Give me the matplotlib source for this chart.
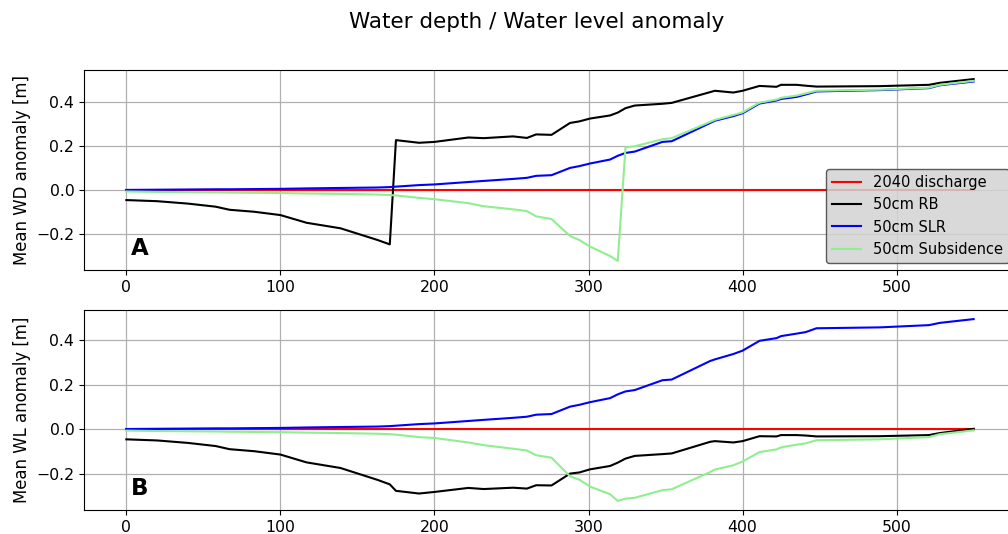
import matplotlib
matplotlib.use("Agg")
import matplotlib.pyplot as plt

# distance along the channel (shared by all series)
x = [0, 20, 40, 58, 67, 83, 100, 117, 139, 163, 171, 175, 190, 200, 222, 232,
     251, 260, 266, 276, 288, 294, 301, 314, 319, 324, 330, 348, 354, 379, 382,
     394, 400, 411, 422, 425, 435, 441, 448, 489, 521, 528, 550]

base_2040 = [0.0] * len(x)

# panel A: water depth anomaly
wd_rb = [-0.044, -0.049, -0.060, -0.074, -0.088, -0.097, -0.112, -0.147, -0.172, -0.225,
         -0.245, 0.228, 0.216, 0.220, 0.240, 0.237, 0.245, 0.238, 0.254, 0.252, 0.306,
         0.313, 0.326, 0.340, 0.353, 0.373, 0.385, 0.393, 0.397, 0.446, 0.452, 0.444,
         0.452, 0.474, 0.470, 0.479, 0.479, 0.475, 0.471, 0.473, 0.479, 0.488, 0.505]
wd_slr = [0.002, 0.003, 0.004, 0.005, 0.005, 0.006, 0.007, 0.009, 0.011, 0.013,
          0.015, 0.017, 0.024, 0.027, 0.038, 0.043, 0.052, 0.057, 0.066, 0.069, 0.102,
          0.110, 0.122, 0.140, 0.157, 0.170, 0.176, 0.220, 0.223, 0.306, 0.316, 0.337,
          0.350, 0.394, 0.408, 0.415, 0.424, 0.435, 0.449, 0.455, 0.464, 0.477, 0.494]
wd_sub = [-0.005, -0.007, -0.008, -0.009, -0.010, -0.011, -0.012, -0.014, -0.016, -0.019,
          -0.021, -0.023, -0.034, -0.040, -0.058, -0.072, -0.086, -0.094, -0.118, -0.130,
          -0.207, -0.225, -0.255, -0.298, -0.320, 0.195, 0.200, 0.232, 0.237, 0.311, 0.320,
          0.342, 0.354, 0.398, 0.412, 0.420, 0.430, 0.440, 0.452, 0.457, 0.466, 0.479, 0.497]

# panel B: water level anomaly
wl_rb = [-0.044, -0.049, -0.060, -0.074, -0.088, -0.097, -0.112, -0.147, -0.172, -0.225,
         -0.245, -0.274, -0.286, -0.279, -0.261, -0.266, -0.260, -0.264, -0.249, -0.250,
         -0.197, -0.192, -0.178, -0.163, -0.148, -0.130, -0.118, -0.110, -0.107, -0.055,
         -0.052, -0.058, -0.052, -0.030, -0.031, -0.025, -0.025, -0.027, -0.031, -0.030,
         -0.025, -0.016, 0.003]
wl_slr = [0.002, 0.003, 0.004, 0.005, 0.005, 0.006, 0.007, 0.009, 0.011, 0.013,
          0.015, 0.017, 0.024, 0.027, 0.038, 0.043, 0.052, 0.057, 0.066, 0.069, 0.102,
          0.110, 0.122, 0.140, 0.157, 0.170, 0.176, 0.220, 0.223, 0.306, 0.313, 0.337,
          0.352, 0.396, 0.408, 0.417, 0.428, 0.435, 0.452, 0.456, 0.466, 0.476, 0.493]
wl_sub = [-0.005, -0.007, -0.008, -0.009, -0.010, -0.011, -0.012, -0.014, -0.016, -0.019,
          -0.021, -0.023, -0.034, -0.038, -0.058, -0.070, -0.086, -0.094, -0.115, -0.126,
          -0.209, -0.224, -0.255, -0.289, -0.319, -0.309, -0.305, -0.271, -0.267, -0.190,
          -0.179, -0.160, -0.143, -0.101, -0.089, -0.080, -0.068, -0.062, -0.048, -0.044,
          -0.034, -0.021, -0.004]

labels = ["2040 discharge", "50cm RB", "50cm SLR", "50cm Subsidence"]
colors = ["red", "black", "blue", "lightgreen"]

fig = plt.figure(figsize=(10.08, 5.34), dpi=100)
W = (1016 - 84) / 1008
ax1 = fig.add_axes([84 / 1008, 1 - 270 / 534, W, 200 / 534])
ax2 = fig.add_axes([84 / 1008, 1 - 510 / 534, W, 200 / 534])

panels = [
    (ax1, [base_2040, wd_rb, wd_slr, wd_sub], "Mean WD anomaly [m]", "A"),
    (ax2, [base_2040, wl_rb, wl_slr, wl_sub], "Mean WL anomaly [m]", "B"),
]
for ax, series, ylab, letter in panels:
    for y, c, lab in zip(series, colors, labels):
        ax.plot(x, y, color=c, lw=1.5, label=lab)
    ax.grid(True, color="#b0b0b0", lw=0.9)
    ax.set_yticks([-0.2, 0.0, 0.2, 0.4])
    ax.set_xticks([0, 100, 200, 300, 400, 500])
    ax.tick_params(labelsize=11.3)
    ax.set_ylabel(ylab, fontsize=11.9)
    ax.text(0.05, 0.05, letter, transform=ax.transAxes, fontsize=16.5,
            fontweight="bold", ha="left", va="bottom")

ax1.legend(loc="lower right", fontsize=10.5, facecolor="lightgray",
           edgecolor="0.25", framealpha=0.85)

fig.suptitle("Water depth / Water level anomaly", x=537 / 1008, y=1 - 22 / 534,
             va="center", fontsize=15.5)

fig.savefig("out.png", dpi=100)
